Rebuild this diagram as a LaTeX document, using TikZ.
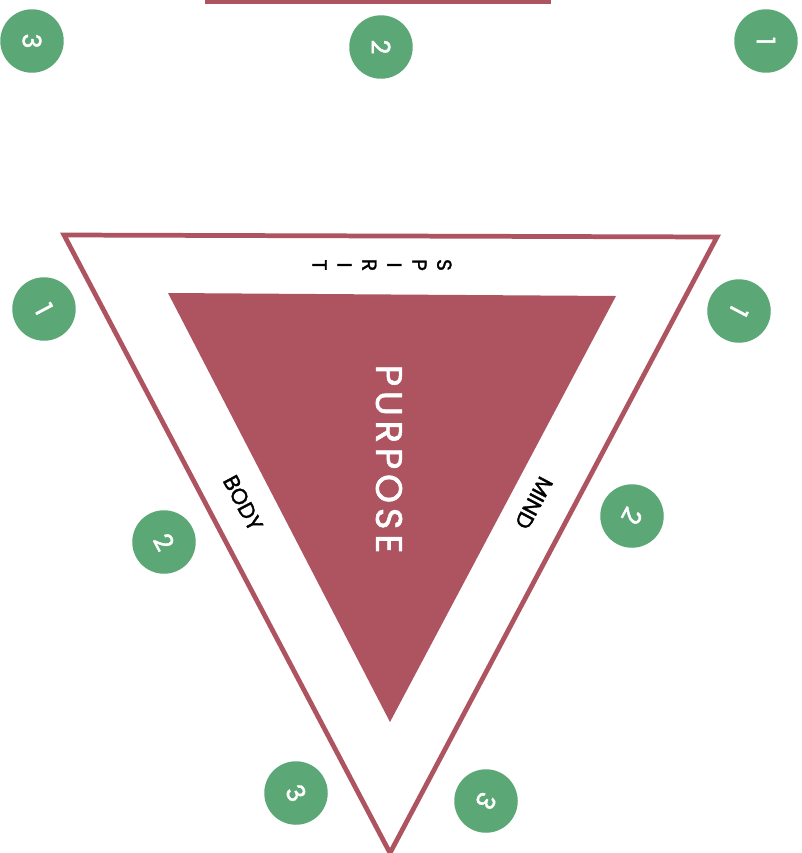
\documentclass[tikz,border=0pt]{standalone}
\usepackage{fontspec}
\setmainfont{Poppins}[UprightFeatures={FakeBold=1.6}]
\usetikzlibrary{positioning}
\definecolor{wine}{HTML}{AE5360}
\definecolor{leaf}{HTML}{5BA876}

\begin{document}
\begin{tikzpicture}[x=0.02cm,y=-0.02cm,
  num/.style={circle,fill=leaf,text=white,minimum size=1.27cm,inner sep=0pt,
    font=\fontsize{14.5}{16}\selectfont},
  side/.style={text=black,font=\fontsize{12.5}{14}\selectfont}]
  \useasboundingbox (0,0) rectangle (802,853);

  % bar cut off at the top
  \fill[wine] (205,0) rectangle (551,3.5);

  % frame and core
  \coordinate (ol) at (64,235);
  \coordinate (or) at (717,237);
  \coordinate (ob) at (390,853);
  \draw[wine,line width=2.7pt,line join=miter] (ol) -- (or) -- (ob) -- cycle;
  \fill[wine] (168,293) -- (616,296) -- (390,722) -- cycle;

  \node[text=white,rotate=-90,font=\fontsize{21}{24}\selectfont\addfontfeatures{LetterSpace=13}]
    (purpose) at (389,459) {PURPOSE};
  \node[rotate=-90,align=center,font=\fontsize{11.5}{14.2}\selectfont]
    (spirit) at (382,265) {S\\P\\I\\R\\I\\T};
  \node[side,rotate=-62] (body) at (243,503) {BODY};
  \node[side,rotate=-118] (mind) at (534,503) {MIND};

  % top row
  \node[num,rotate=-90] (t3) at (32,41) {3};
  \node[num,rotate=-90] (t2) at (381,47) {2};
  \node[num,rotate=-90] (t1) at (766,41) {1};

  % left side
  \node[num,rotate=-62] (l1) at (44,309) {1};
  \node[num,rotate=-62] (l2) at (164,542) {2};
  \node[num,rotate=-62] (l3) at (296,793) {3};

  % right side
  \node[num,rotate=-118] (r1) at (739,311) {1};
  \node[num,rotate=-118] (r2) at (632,516) {2};
  \node[num,rotate=-118] (r3) at (486,801) {3};
\end{tikzpicture}
\end{document}
